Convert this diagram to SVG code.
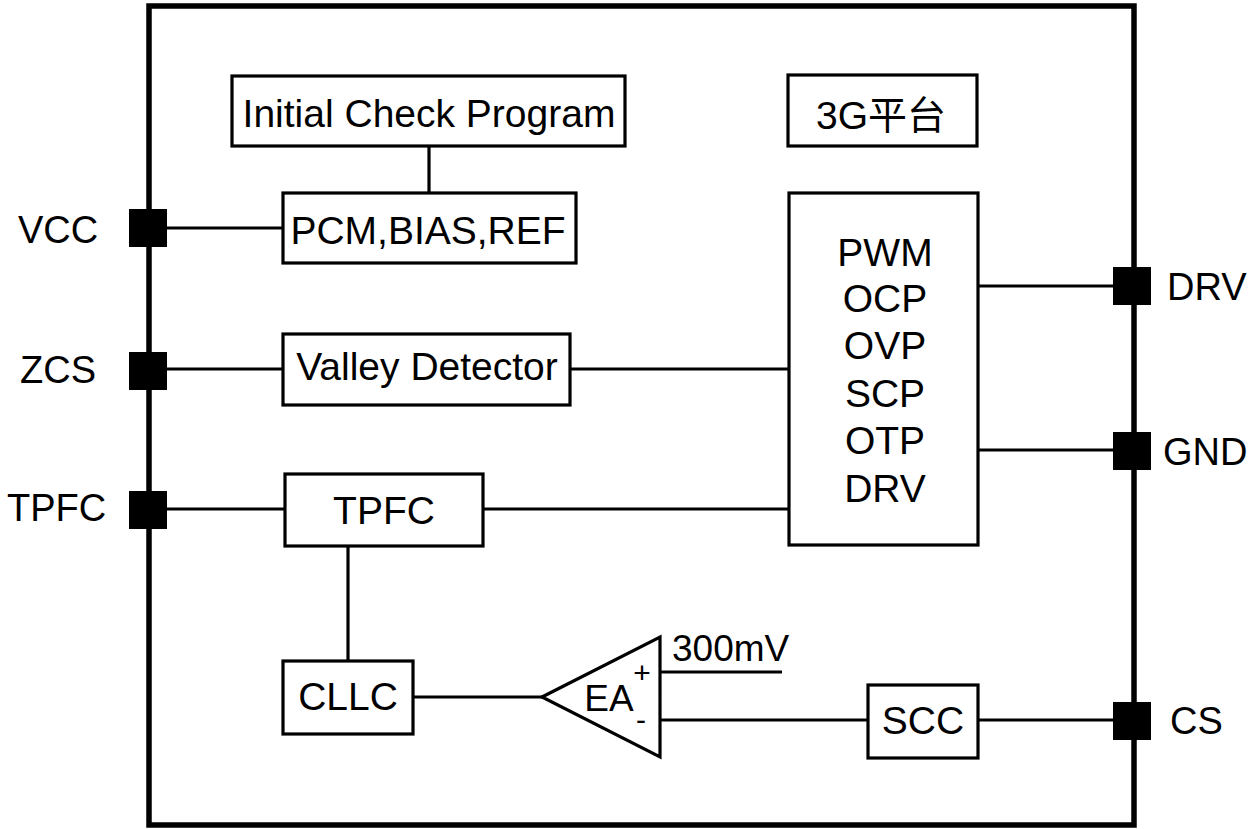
<svg xmlns="http://www.w3.org/2000/svg" width="1258" height="829" viewBox="0 0 1258 829">
<style>
.box{fill:#fff;stroke:#000;stroke-width:3.2}
.ln{stroke:#000;stroke-width:3.2;fill:none}
.pin{fill:#000}
text{font-family:"Liberation Sans",Arial,"Noto Sans CJK SC",sans-serif;fill:#000}
.t{font-size:39px;text-anchor:middle}
.lab{font-size:38px}
</style>
<rect width="1258" height="829" fill="#fff"/>
<rect x="149" y="6" width="985" height="819" fill="none" stroke="#000" stroke-width="5.5"/>
<g id="connectors">
<line class="ln" x1="429" y1="146" x2="429" y2="193"/>
<line class="ln" x1="167" y1="228" x2="283" y2="228"/>
<line class="ln" x1="167" y1="369" x2="283" y2="369"/>
<line class="ln" x1="570" y1="369" x2="789" y2="369"/>
<line class="ln" x1="167" y1="509" x2="285" y2="509"/>
<line class="ln" x1="483" y1="509" x2="789" y2="509"/>
<line class="ln" x1="348" y1="546" x2="348" y2="661"/>
<line class="ln" x1="413" y1="697" x2="542" y2="697"/>
<line class="ln" x1="660" y1="672" x2="782" y2="672"/>
<line class="ln" x1="660" y1="720" x2="868" y2="720"/>
<line class="ln" x1="978" y1="720" x2="1113" y2="720"/>
<line class="ln" x1="978" y1="286" x2="1113" y2="286"/>
<line class="ln" x1="978" y1="450" x2="1113" y2="450"/>
</g>
<g id="pin-vcc"><rect class="pin" x="129" y="209" width="38" height="38"/><text class="lab" x="18" y="243">VCC</text></g>
<g id="pin-zcs"><rect class="pin" x="129" y="352" width="38" height="38"/><text class="lab" x="20" y="383">ZCS</text></g>
<g id="pin-tpfc"><rect class="pin" x="129" y="491" width="38" height="38"/><text class="lab" x="7" y="521">TPFC</text></g>
<g id="pin-drv"><rect class="pin" x="1113" y="267" width="38" height="38"/><text class="lab" x="1167" y="300">DRV</text></g>
<g id="pin-gnd"><rect class="pin" x="1113" y="432" width="38" height="38"/><text class="lab" x="1163" y="465">GND</text></g>
<g id="pin-cs"><rect class="pin" x="1113" y="702" width="38" height="38"/><text class="lab" x="1170" y="734">CS</text></g>
<g id="initial-check"><rect class="box" x="232" y="76" width="393" height="70"/><text class="t" x="429" y="127" font-size="40">Initial Check Program</text></g>
<g id="pcm"><rect class="box" x="283" y="193" width="293" height="70"/><text class="t" x="428" y="244">PCM,BIAS,REF</text></g>
<g id="platform"><rect class="box" x="788" y="75" width="189" height="71"/><text class="t" x="881" y="129" font-size="37">3G平台</text></g>
<g id="valley"><rect class="box" x="283" y="334" width="287" height="71"/><text class="t" x="427" y="380">Valley Detector</text></g>
<g id="pwm"><rect class="box" x="789" y="193" width="189" height="352"/>
<text class="t" x="885" y="266" font-size="38">PWM</text>
<text class="t" x="885" y="312" font-size="38">OCP</text>
<text class="t" x="885" y="359" font-size="38">OVP</text>
<text class="t" x="885" y="407" font-size="38">SCP</text>
<text class="t" x="885" y="454" font-size="38">OTP</text>
<text class="t" x="885" y="502" font-size="38">DRV</text></g>
<g id="tpfc"><rect class="box" x="285" y="474" width="198" height="72"/><text class="t" x="384" y="524">TPFC</text></g>
<g id="cllc"><rect class="box" x="283" y="661" width="130" height="73"/><text class="t" x="348" y="710">CLLC</text></g>
<g id="ea"><polygon class="box" points="542,697 660,637 660,757"/>
<text x="609" y="711" font-size="37" text-anchor="middle">EA</text>
<text x="642" y="683" font-size="30" text-anchor="middle">+</text>
<text x="641" y="730" font-size="30" text-anchor="middle">-</text></g>
<g id="ref300"><text x="672" y="661" font-size="37">300mV</text></g>
<g id="scc"><rect class="box" x="868" y="685" width="110" height="73"/><text class="t" x="923" y="734">SCC</text></g>
</svg>
